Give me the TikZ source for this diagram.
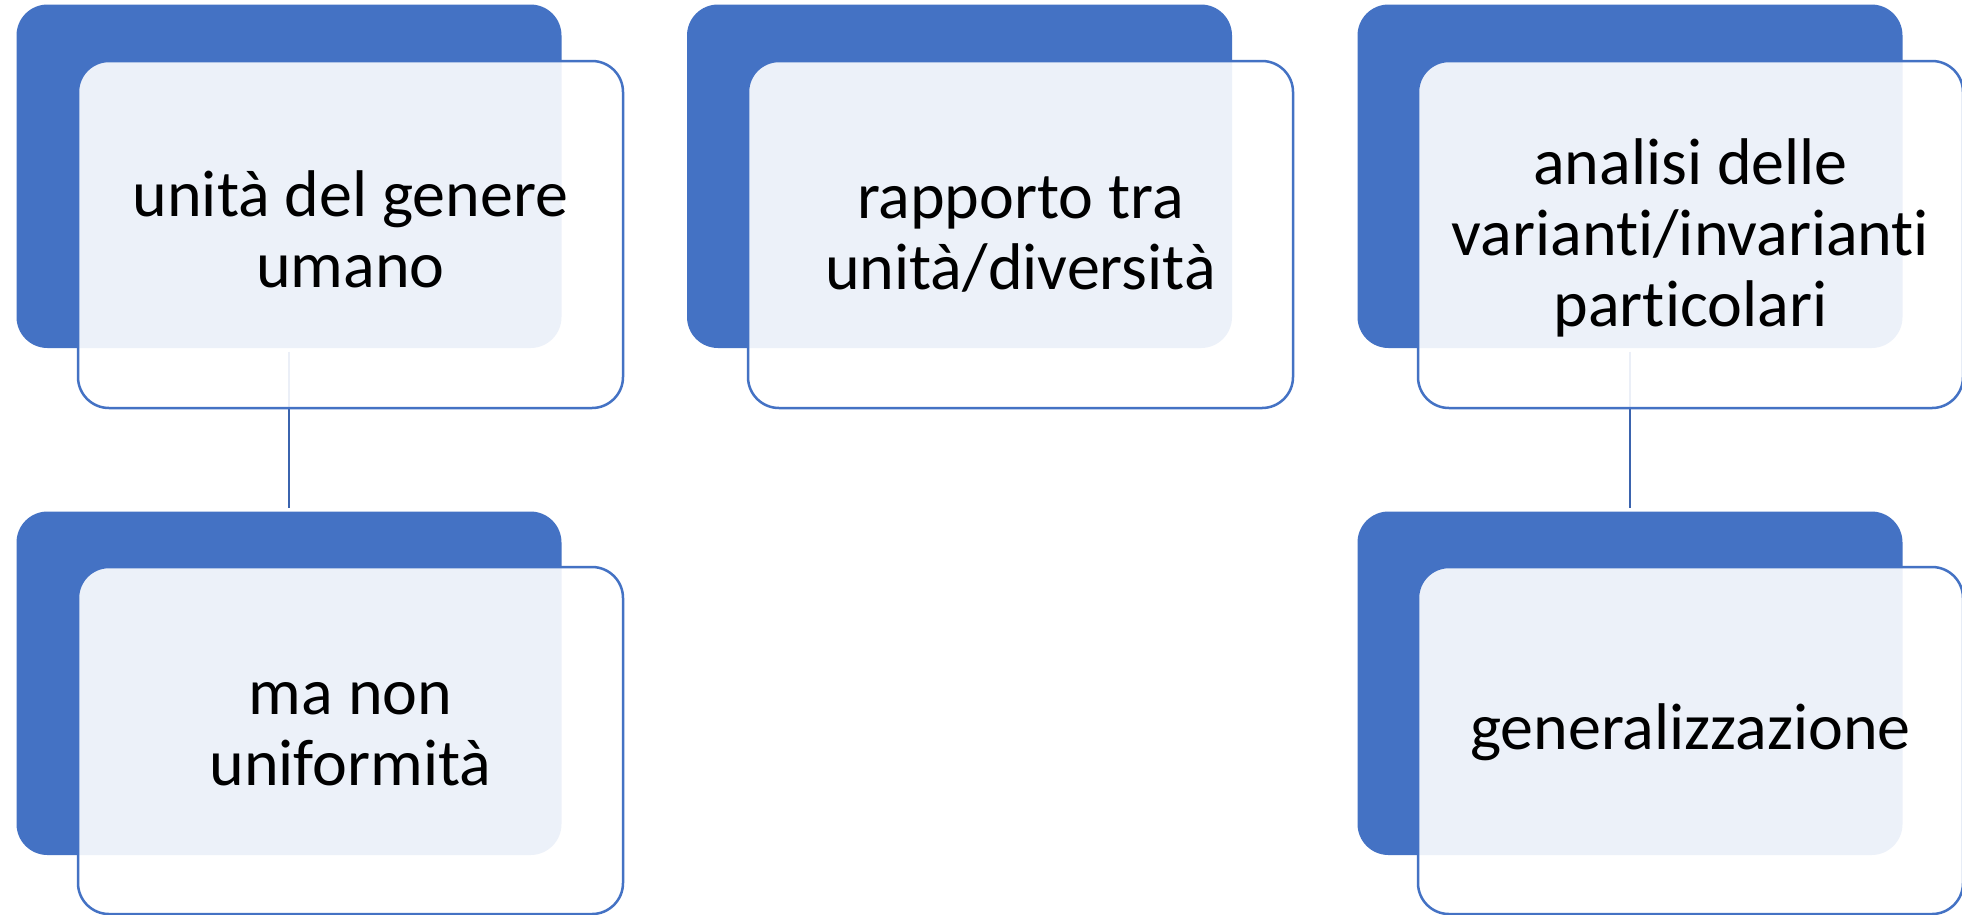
\documentclass[tikz,border=0pt]{standalone}
\usepackage{fontspec}
\setmainfont{Carlito}[Ligatures=NoCommon]
\newcommand\tstrut{\rule[-0.2em]{0pt}{1em}}
\begin{document}
\begin{tikzpicture}[x=1pt,y=-1pt]
\definecolor{acc}{HTML}{4472C4}
\definecolor{conn}{HTML}{3B64AE}
\tikzset{
  backbox/.style={fill=acc, rounded corners=31pt, minimum width=545pt, minimum height=343.5pt, anchor=north west, inner sep=0pt, outer sep=0pt},
  frontbox/.style={draw=acc, line width=2.5pt, fill=white, fill opacity=0.9, rounded corners=31pt, minimum width=545pt, minimum height=347pt, anchor=north west, inner sep=0pt, outer sep=0pt},
  lbl/.style={font=\fontsize{66}{71}\selectfont, align=center, text=black, inner sep=0pt},
  link/.style={draw=conn, line width=2.5pt, shorten <=3.5pt, shorten >=3.5pt},
}
\useasboundingbox (0,0) rectangle (1962,914);
\fill[white] (0,0) rectangle (1962,914);
% back boxes
\node[backbox] (b1) at (16.5,4.5) {};
\node[backbox] (b2) at (687,4.5) {};
\node[backbox] (b3) at (1357.5,4.5) {};
\node[backbox] (b4) at (16.5,511.5) {};
\node[backbox] (b6) at (1357.5,511.5) {};
% connectors
\draw[link] (b1.south) -- (b4.north);
\draw[link] (b3.south) -- (b6.north);
% front boxes
\node[frontbox] (f1) at (78,61) {};
\node[frontbox] (f2) at (748,61) {};
\node[frontbox] (f3) at (1418,61) {};
\node[frontbox] (f4) at (78,567) {};
\node[frontbox] (f6) at (1418,567) {};
% labels
\node[lbl] (t1) at ([yshift=2.5pt]f1.center) {\tstrut unità del genere\\\tstrut umano};
\node[lbl] (t2) at ([yshift=0pt]f2.center) {\tstrut rapporto tra\\\tstrut unità/diversità};
\node[lbl] (t3) at ([yshift=-1pt]f3.center) {\tstrut analisi delle\\\tstrut varianti/invarianti\\\tstrut particolari};
\node[lbl] (t4) at ([yshift=10pt]f4.center) {\tstrut ma non\\\tstrut uniformità};
\node[lbl] (t6) at ([yshift=11pt]f6.center) {\tstrut generalizzazione};
\end{tikzpicture}
\end{document}
